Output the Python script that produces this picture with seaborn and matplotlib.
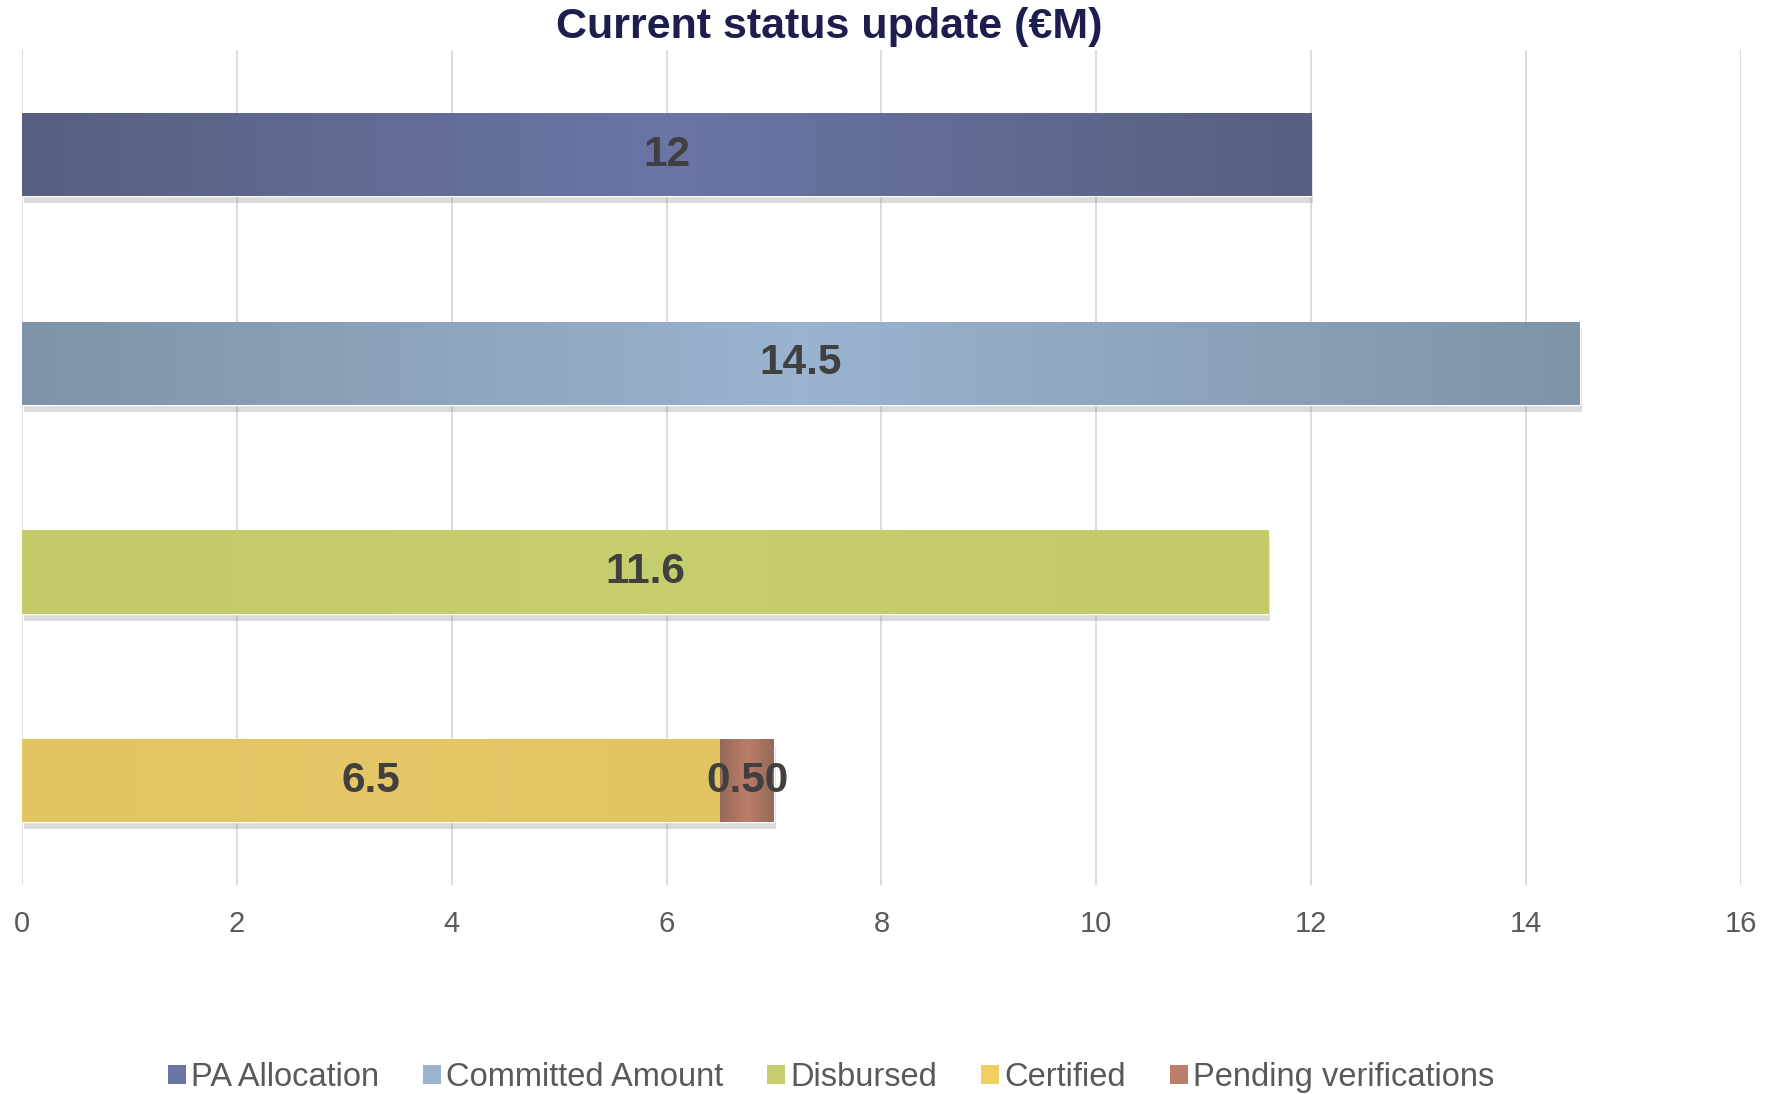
import numpy as np
import pandas as pd
import matplotlib
matplotlib.use("Agg")
import matplotlib.pyplot as plt
import matplotlib.patheffects as pe
from matplotlib.colors import LinearSegmentedColormap
from matplotlib.patches import Patch
import seaborn as sns

# data
series = ["PA Allocation", "Committed Amount", "Disbursed", "Certified"]
values = [12, 14.5, 11.6, 6.5]
value_labels = ["12", "14.5", "11.6", "6.5"]
pending_name = "Pending verifications"
pending_value = 0.5
pending_label = "0.50"
x_ticks = [0, 2, 4, 6, 8, 10, 12, 14, 16]

# (edge colour, centre colour) for the shaded bars
shades = {
    "PA Allocation": ("#585f80", "#6a75a6"),
    "Committed Amount": ("#7f94a8", "#9ab3cf"),
    "Disbursed": ("#c3cb68", "#c6ce6d"),
    "Certified": ("#e2c462", "#e5c767"),
    pending_name: ("#96675a", "#bd7e69"),
}

sns.set_style("white")
plt.rcParams["font.family"] = ["Liberation Sans", "DejaVu Sans"]

fig = plt.figure(figsize=(17.68, 10.94), dpi=100)
ax = fig.add_axes([0.0124, 0.191, 0.9723, 0.763])

df = pd.DataFrame({"series": series, "value": values})
sns.barplot(data=df, x="value", y="series", hue="series", orient="h",
            palette=[shades[s][1] for s in series], saturation=1,
            width=0.4, legend=False, ax=ax)
ax.barh(len(series) - 1, pending_value, left=values[-1], height=0.4,
        color=shades[pending_name][1])

names = series + [pending_name]
shadow = [pe.SimplePatchShadow(offset=(1.5, -5), shadow_rgbFace="#8a8a8a", alpha=0.3), pe.Normal()]
grad = np.concatenate([np.linspace(0, 1, 128), np.linspace(1, 0, 128)])[None, :]
for patch, name in zip(ax.patches, names):
    patch.set_path_effects(shadow)
    edge, centre = shades[name]
    cmap = LinearSegmentedColormap.from_list(name, [edge, centre])
    x0, y0 = patch.get_x(), patch.get_y()
    w, h = patch.get_width(), patch.get_height()
    im = ax.imshow(grad, extent=[x0, x0 + w, y0 + h, y0], aspect="auto",
                   cmap=cmap, zorder=patch.get_zorder() + 0.1)
    im.set_clip_path(patch)

for i, (v, lab) in enumerate(zip(values, value_labels)):
    ax.text(v / 2, i, lab, ha="center", va="center", fontsize=30.5,
            fontweight="bold", color="#404040", zorder=5)
ax.text(values[-1] + pending_value / 2, len(series) - 1, pending_label,
        ha="center", va="center", fontsize=30.5, fontweight="bold",
        color="#404040", zorder=5)

ax.set_xlim(0, 16)
ax.set_ylim(len(series) - 0.5, -0.5)
ax.set_xticks(x_ticks)
ax.set_xticklabels([str(t) for t in x_ticks])
ax.set_yticks([])
ax.set_xlabel("")
ax.set_ylabel("")
ax.set_axisbelow(True)
ax.grid(axis="x", color="#d9d9d9", linewidth=1.3)
ax.tick_params(axis="x", length=0, pad=18, labelsize=21, labelcolor="#595959")
for s in ax.spines.values():
    s.set_visible(False)

fig.text(0.469, 0.975, "Current status update (€M)", ha="center", va="center",
         fontsize=31, fontweight="bold", color="#1d1d4e")

handles = [Patch(facecolor=shades[n][1], edgecolor="none") for n in names]
handles[3] = Patch(facecolor="#f0cf60", edgecolor="none")
fig.legend(handles, names, loc="center", bbox_to_anchor=(0.47, 0.015),
           ncol=5, frameon=False, fontsize=23.5, labelcolor="#595959",
           handlelength=0.55, handleheight=0.55, handletextpad=0.15,
           columnspacing=1.35)

fig.savefig("out.png", dpi=100)
